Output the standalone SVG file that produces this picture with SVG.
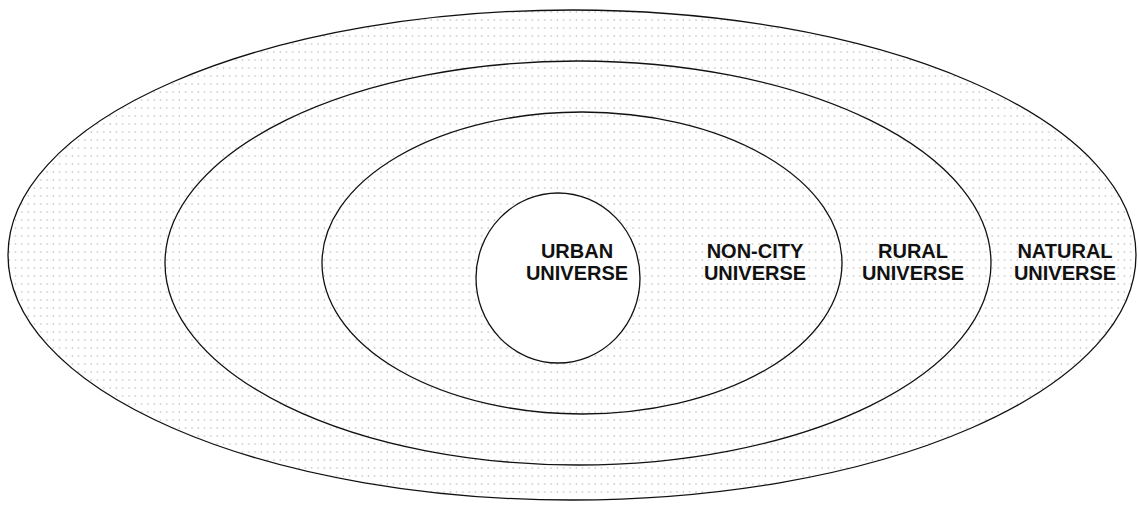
<svg xmlns="http://www.w3.org/2000/svg" width="1139" height="511" viewBox="0 0 1139 511">
<style>
.ring{fill:url(#dots);stroke:#111;stroke-width:1.3}
.core{fill:#fff;stroke:#111;stroke-width:1.3}
.lbl{font-family:"Liberation Sans",Arial,sans-serif;font-weight:bold;font-size:20px;fill:#111;text-anchor:middle}
</style>
<defs>
<pattern id="dots" width="6.3" height="8" patternUnits="userSpaceOnUse">
<rect width="6.3" height="8" fill="#fff"/>
<circle cx="3" cy="4" r="0.8" fill="#b8b8b8"/>
</pattern>
</defs>
<rect width="1139" height="511" fill="#fff"/>
<g id="natural"><ellipse class="ring" cx="572" cy="255" rx="564" ry="245"/></g>
<g id="rural"><ellipse class="ring" cx="578" cy="263" rx="413" ry="202"/></g>
<g id="noncity"><ellipse class="ring" cx="582" cy="263" rx="260" ry="151"/></g>
<g id="urban"><ellipse class="core" cx="558" cy="278" rx="82" ry="85"/></g>
<g id="connectors"></g>
<g id="labels">
<text class="lbl" x="577" y="258">URBAN<tspan x="577" y="280">UNIVERSE</tspan></text>
<text class="lbl" x="755" y="258">NON-CITY<tspan x="755" y="280">UNIVERSE</tspan></text>
<text class="lbl" x="913" y="258">RURAL<tspan x="913" y="280">UNIVERSE</tspan></text>
<text class="lbl" x="1065" y="258">NATURAL<tspan x="1065" y="280">UNIVERSE</tspan></text>
</g>
</svg>
